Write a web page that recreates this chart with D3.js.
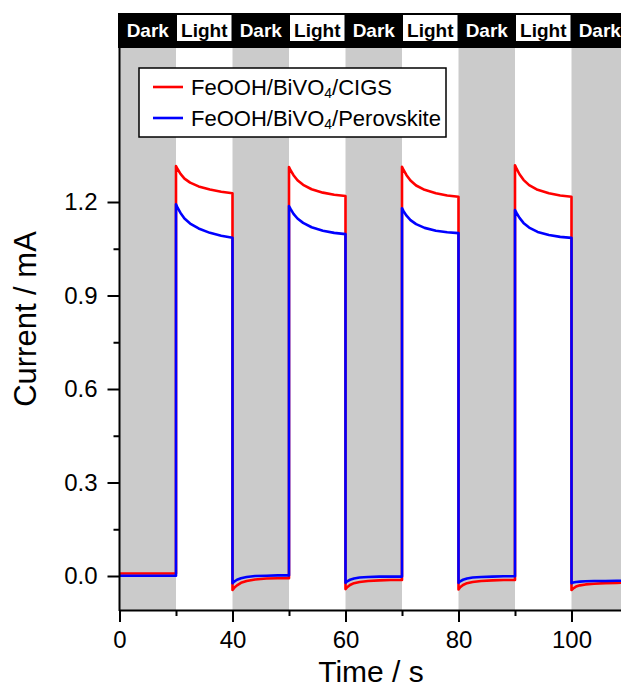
<!DOCTYPE html>
<html>
<head>
<meta charset="utf-8">
<script src="https://cdn.jsdelivr.net/npm/d3@7"></script>
<style>
  html, body { margin: 0; padding: 0; background: #fff; }
  svg { display: block; }
  text { font-family: "Liberation Sans", Arial, sans-serif; }
</style>
</head>
<body>
<svg id="chart" width="621" height="688"></svg>
<script>
// ---- data ----
const phaseLabels = ["Dark","Light","Dark","Light","Dark","Light","Dark","Light","Dark"];
const phaseStart  = [0, 20, 40, 50, 60, 70, 80, 90, 100];
const phaseEnd    = [20, 40, 50, 60, 70, 80, 90, 100, 110];
const sampleFrac  = [0, 0.03, 0.08, 0.15, 0.25, 0.4, 0.6, 0.8, 1];

const seriesNames = ["FeOOH/BiVO4/CIGS", "FeOOH/BiVO4/Perovskite"];
const cigsValues = [
  [0.008, 0.008, 0.008, 0.008, 0.008, 0.008, 0.008, 0.008, 0.008],
  [1.315, 1.305, 1.290, 1.275, 1.262, 1.250, 1.240, 1.233, 1.228],
  [-0.045, -0.038, -0.030, -0.022, -0.016, -0.011, -0.008, -0.007, -0.007],
  [1.312, 1.301, 1.286, 1.270, 1.255, 1.241, 1.230, 1.223, 1.219],
  [-0.042, -0.036, -0.029, -0.023, -0.019, -0.016, -0.014, -0.013, -0.013],
  [1.313, 1.302, 1.286, 1.269, 1.253, 1.239, 1.228, 1.221, 1.217],
  [-0.043, -0.036, -0.029, -0.023, -0.019, -0.016, -0.014, -0.013, -0.013],
  [1.318, 1.306, 1.289, 1.271, 1.254, 1.239, 1.228, 1.221, 1.217],
  [-0.045, -0.040, -0.034, -0.030, -0.027, -0.025, -0.023, -0.022, -0.021]
];
const perovskiteValues = [
  [0.001, 0.001, 0.001, 0.001, 0.001, 0.001, 0.001, 0.001, 0.001],
  [1.193, 1.181, 1.165, 1.147, 1.131, 1.115, 1.101, 1.092, 1.085],
  [-0.023, -0.018, -0.012, -0.007, -0.003, 0.000, 0.001, 0.002, 0.002],
  [1.187, 1.177, 1.162, 1.147, 1.133, 1.119, 1.108, 1.101, 1.097],
  [-0.022, -0.017, -0.012, -0.008, -0.005, -0.003, -0.002, -0.002, -0.002],
  [1.180, 1.170, 1.156, 1.142, 1.129, 1.117, 1.108, 1.103, 1.100],
  [-0.022, -0.017, -0.012, -0.008, -0.005, -0.003, -0.002, -0.001, -0.001],
  [1.174, 1.164, 1.149, 1.133, 1.118, 1.104, 1.094, 1.088, 1.085],
  [-0.023, -0.021, -0.019, -0.018, -0.017, -0.016, -0.016, -0.015, -0.015]
];

const xMajorTicks = [0, 40, 60, 80, 100];
const xMinorTicks = [20, 50, 70, 90];
const yMajorTicks = [0.0, 0.3, 0.6, 0.9, 1.2];
const yMinorTicks = [0.15, 0.45, 0.75, 1.05];
const seriesColors = ["#ff0000", "#0000ff"];

// ---- layout ----
const svg = d3.select("#chart");
const x = d3.scaleLinear().domain([0, 40, 110]).range([119.5, 232.5, 628]);
const y = d3.scaleLinear().domain([0, 1.2]).range([576, 202]);
const plotTop = 48, plotBottom = 610;

// dark/light background bands
svg.append("g").selectAll("rect")
  .data(phaseLabels.map((l, i) => ({l, s: phaseStart[i], e: phaseEnd[i]})))
  .join("rect")
  .attr("x", d => x(d.s)).attr("width", d => x(d.e) - x(d.s))
  .attr("y", plotTop).attr("height", plotBottom - plotTop)
  .attr("fill", d => d.l === "Dark" ? "#cbcbcb" : "#ffffff");

// header strip
const header = svg.append("g");
header.append("rect").attr("x", 118).attr("y", 13).attr("width", 530).attr("height", 35).attr("fill", "#000");
const phases = phaseLabels.map((l, i) => ({l, s: phaseStart[i], e: phaseEnd[i]}));
header.selectAll("rect.light").data(phases.filter(d => d.l === "Light")).join("rect")
  .attr("class", "light")
  .attr("x", d => x(d.s) + 1).attr("width", d => x(d.e) - x(d.s) - 2)
  .attr("y", 15).attr("height", 26).attr("fill", "#fff");
header.selectAll("text").data(phases).join("text")
  .attr("x", d => (x(d.s) + x(d.e)) / 2).attr("y", 37)
  .attr("text-anchor", "middle")
  .attr("font-size", 19).attr("font-weight", "bold")
  .attr("fill", d => d.l === "Dark" ? "#fff" : "#000")
  .text(d => d.l);

// series lines
function buildPoints(values) {
  const pts = [];
  values.forEach((seg, i) => {
    seg.forEach((v, j) => {
      pts.push([phaseStart[i] + sampleFrac[j] * (phaseEnd[i] - phaseStart[i]), v]);
    });
  });
  return pts;
}
const line = d3.line().x(d => x(d[0])).y(d => y(d[1]));
[cigsValues, perovskiteValues].forEach((vals, k) => {
  svg.append("path")
    .attr("d", line(buildPoints(vals)))
    .attr("fill", "none")
    .attr("stroke", seriesColors[k])
    .attr("stroke-width", 2.6)
    .attr("stroke-linejoin", "round");
});

// axes
function styleAxis(g) {
  g.selectAll("path.domain").attr("stroke", "#000").attr("stroke-width", 2);
  g.selectAll(".tick line").attr("stroke", "#000").attr("stroke-width", 2);
  g.selectAll(".tick text").attr("font-family", "Liberation Sans, Arial, sans-serif").attr("font-size", 24).attr("fill", "#000");
}
const gx = svg.append("g").attr("transform", `translate(0,${plotBottom})`)
  .call(d3.axisBottom(x).tickValues(xMajorTicks).tickSize(12).tickSizeOuter(0).tickPadding(9).tickFormat(d3.format("d")));
styleAxis(gx);
const gxm = svg.append("g").attr("transform", `translate(0,${plotBottom})`)
  .call(d3.axisBottom(x).tickValues(xMinorTicks).tickSize(6).tickSizeOuter(0).tickFormat(""));
gxm.select("path.domain").remove();
styleAxis(gxm);

const gy = svg.append("g").attr("transform", `translate(${x(0)},0)`)
  .call(d3.axisLeft(y).tickValues(yMajorTicks).tickSize(12).tickSizeOuter(0).tickPadding(10).tickFormat(d3.format(".1f")));
gy.select("path.domain").attr("d", `M0,${plotTop}V${plotBottom + 1}`);
styleAxis(gy);
const gym = svg.append("g").attr("transform", `translate(${x(0)},0)`)
  .call(d3.axisLeft(y).tickValues(yMinorTicks).tickSize(6).tickSizeOuter(0).tickFormat(""));
gym.select("path.domain").remove();
styleAxis(gym);

// axis titles
svg.append("text").attr("x", 371).attr("y", 682).attr("text-anchor", "middle")
  .attr("font-size", 30).text("Time / s");
svg.append("text").attr("transform", "translate(36,319) rotate(-90)").attr("text-anchor", "middle")
  .attr("font-size", 31).text("Current / mA");

// legend
const lg = svg.append("g");
lg.append("rect").attr("x", 139).attr("y", 68).attr("width", 307).attr("height", 69)
  .attr("fill", "#fff").attr("stroke", "#000").attr("stroke-width", 1.5);
seriesNames.forEach((name, i) => {
  const yy = 87 + i * 31;
  lg.append("line").attr("x1", 153).attr("x2", 183).attr("y1", yy).attr("y2", yy)
    .attr("stroke", seriesColors[i]).attr("stroke-width", 2.6);
  const t = lg.append("text").attr("x", 191).attr("y", yy + 8).attr("font-size", 22).attr("fill", "#000");
  const parts = name.split("4");
  t.append("tspan").text(parts[0]);
  t.append("tspan").attr("font-size", 14).attr("dy", 3).text("4");
  t.append("tspan").attr("dy", -3).text(parts[1]);
});
</script>
</body>
</html>
